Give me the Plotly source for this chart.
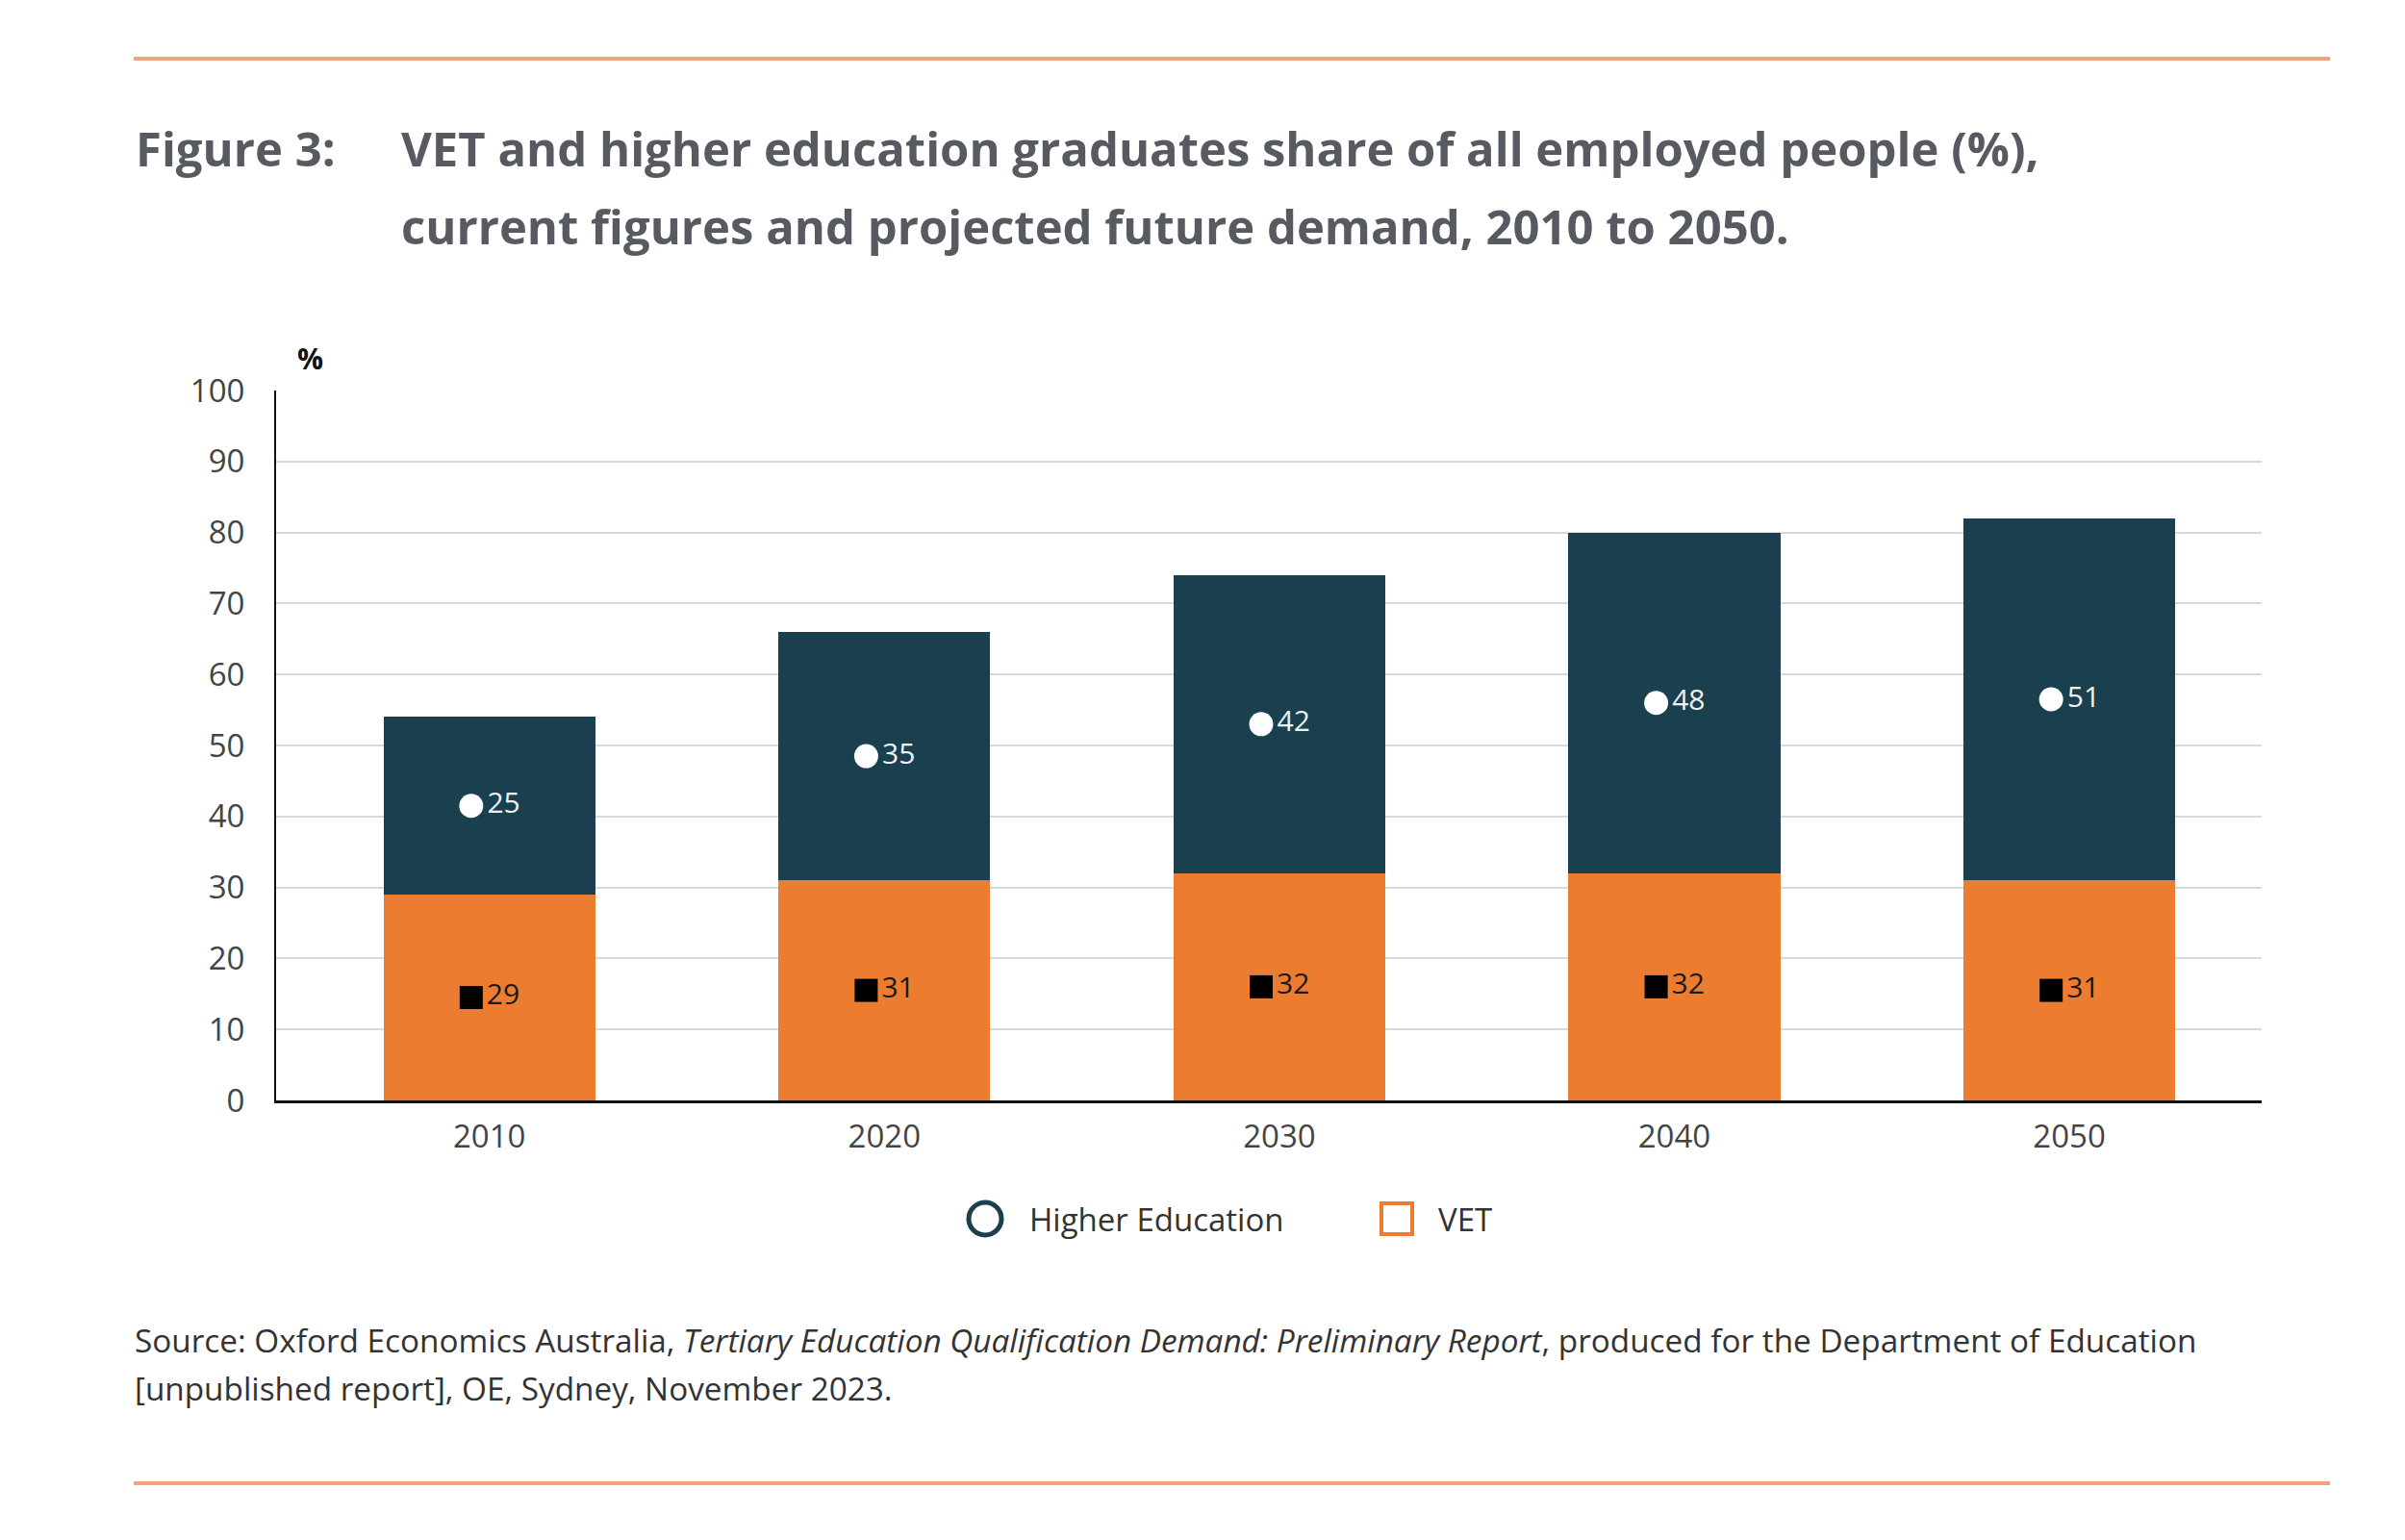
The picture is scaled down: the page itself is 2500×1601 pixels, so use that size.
import plotly.graph_objects as go

# ---- data ----
years = ["2010", "2020", "2030", "2040", "2050"]
vet = [29, 31, 32, 32, 31]
higher_ed = [25, 35, 42, 48, 51]
y_ticks = [0, 10, 20, 30, 40, 50, 60, 70, 80, 90, 100]

title_label = "Figure 3:"
title_line1 = "VET and higher education graduates share of all employed people (%),"
title_line2 = "current figures and projected future demand, 2010 to 2050."
source_line1 = ("Source: Oxford Economics Australia, <i>Tertiary Education Qualification Demand: "
                "Preliminary Report</i>, produced for the Department of Education")
source_line2 = "[unpublished report], OE, Sydney, November 2023."

# ---- style ----
TEAL = "#1a3f4f"
ORANGE = "#ec7c30"
RULE = "#f2a27c"
FONT = "Open Sans"
OFF = 8                      # page body margin
SW, SH = 2500, 1601          # screen size
W, H = SW - OFF, SH - OFF    # figure size
# plot area in screen pixels
PX0, PX1, PY0, PY1 = 287, 2351, 406, 1144
L, R, T, B = PX0 - OFF, SW - PX1, PY0 - OFF, SH - PY1
PW, PH = PX1 - PX0, PY1 - PY0


def px(X):
    return (X - PX0) / PW


def py(Y):
    return (PY1 - Y) / PH


xpos = list(range(len(years)))
label_dx = -0.046
he_mid = [v + h / 2 for v, h in zip(vet, higher_ed)]
vet_mid = [v / 2 for v in vet]

fig = go.Figure()
fig.add_trace(go.Bar(x=xpos, y=vet, name="VET", marker=dict(color=ORANGE, line=dict(width=0)),
                     width=0.536, showlegend=False, hoverinfo="skip"))
fig.add_trace(go.Bar(x=xpos, y=higher_ed, name="Higher Education",
                     marker=dict(color=TEAL, line=dict(width=0)),
                     width=0.536, showlegend=False, hoverinfo="skip"))
fig.add_trace(go.Scatter(x=[p + label_dx for p in xpos], y=he_mid, mode="markers+text",
                         text=[str(v) for v in higher_ed], textposition="middle right",
                         textfont=dict(family=FONT, size=30, color="#eef2f3"),
                         marker=dict(symbol="circle", size=25, color="white"),
                         showlegend=False, hoverinfo="skip"))
fig.add_trace(go.Scatter(x=[p + label_dx for p in xpos], y=vet_mid, mode="markers+text",
                         text=[str(v) for v in vet], textposition="middle right",
                         textfont=dict(family=FONT, size=30, color="#1a1a1a"),
                         marker=dict(symbol="square", size=24, color="black"),
                         showlegend=False, hoverinfo="skip"))

TITLE_FONT = dict(family=FONT, size=49, color="#575b61", weight=700)
annotations = [
    dict(text=title_label, x=px(139), y=py(154), xanchor="left", yanchor="middle",
         font=TITLE_FONT),
    dict(text=title_line1, x=px(415), y=py(154), xanchor="left", yanchor="middle",
         font=TITLE_FONT),
    dict(text=title_line2, x=px(415), y=py(235), xanchor="left", yanchor="middle",
         font=TITLE_FONT),
    dict(text="%", x=px(322), y=py(372), xanchor="center", yanchor="middle",
         font=dict(family=FONT, size=30, color="#111111", weight=700)),
    dict(text="Higher Education", x=px(1068), y=py(1267), xanchor="left", yanchor="middle",
         font=dict(family=FONT, size=33, color="#333333")),
    dict(text="VET", x=px(1493), y=py(1267), xanchor="left", yanchor="middle",
         font=dict(family=FONT, size=33, color="#333333")),
    dict(text=source_line1, x=px(138), y=py(1393), xanchor="left", yanchor="middle",
         font=dict(family=FONT, size=33.3, color="#333333")),
    dict(text=source_line2, x=px(138), y=py(1443), xanchor="left", yanchor="middle",
         font=dict(family=FONT, size=33.3, color="#333333")),
]
for a in annotations:
    a.update(xref="paper", yref="paper", showarrow=False)

shapes = [
    dict(type="line", x0=px(139), x1=px(2422), y0=py(61), y1=py(61),
         line=dict(color=RULE, width=4)),
    dict(type="line", x0=px(139), x1=px(2422), y0=py(1542), y1=py(1542),
         line=dict(color=RULE, width=4)),
    dict(type="circle", x0=px(1007), x1=px(1041), y0=py(1250), y1=py(1284),
         line=dict(color=TEAL, width=5)),
    dict(type="rect", x0=px(1436), x1=px(1468), y0=py(1251), y1=py(1283),
         line=dict(color=ORANGE, width=4)),
]
for s in shapes:
    s.update(xref="paper", yref="paper")

fig.update_layout(
    width=W, height=H, autosize=False,
    margin=dict(l=L, r=R, t=T, b=B, pad=0),
    paper_bgcolor="white", plot_bgcolor="white",
    barmode="stack",
    showlegend=False,
    font=dict(family=FONT, color="#404040"),
    annotations=annotations,
    shapes=shapes,
    xaxis=dict(range=[-0.54, 4.487], tickmode="array", tickvals=xpos, ticktext=years,
               showgrid=False, zeroline=False, showline=True, linecolor="#111111",
               linewidth=3, ticks="", ticklabelstandoff=6,
               tickfont=dict(family=FONT, size=33, color="#444444")),
    yaxis=dict(range=[0, 100], tickmode="array", tickvals=y_ticks,
               showgrid=True, gridcolor="#d9d9d9", gridwidth=2, zeroline=False,
               showline=True, linecolor="#111111", linewidth=2, ticks="",
               ticklabelstandoff=24,
               tickfont=dict(family=FONT, size=33, color="#444444")),
)

fig.write_html("out.html")
